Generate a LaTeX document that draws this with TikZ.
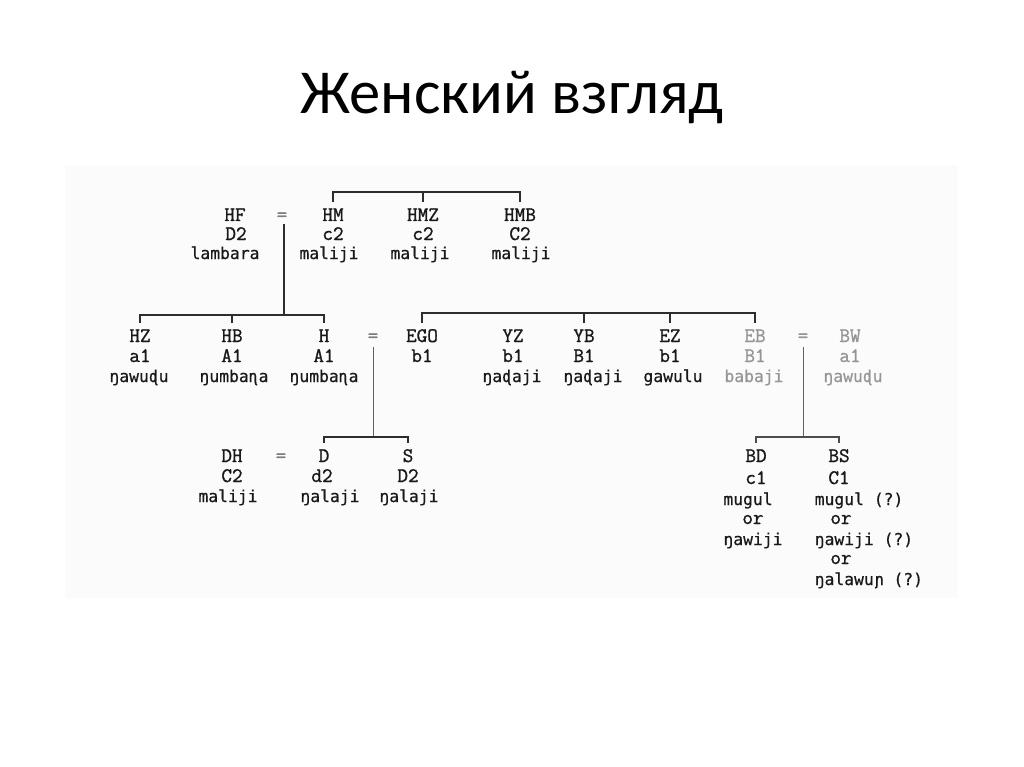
\documentclass[tikz,border=0pt]{standalone}
\usepackage{fontspec}
\setmainfont{Carlito}
\newfontfamily\wordfont[FakeBold=0.6]{DejaVu Sans Mono}
\newfontfamily\codefont[FakeBold=1.2]{Latin Modern Mono}
\usetikzlibrary{positioning}
\definecolor{ink}{RGB}{25,25,25}
\definecolor{fadeink}{RGB}{150,150,150}
\definecolor{eqink}{RGB}{125,125,125}
\definecolor{kinline}{RGB}{45,45,45}
\definecolor{scanbg}{RGB}{251,251,251}

\begin{document}
\begin{tikzpicture}[
  x=0.703125pt, y=-0.703125pt,
  kname/.style={font=\fontsize{14.5}{15}\codefont, text=ink, anchor=base,
                text height=8.9pt, text depth=0pt, inner xsep=1pt, inner ysep=4pt},
  kcode/.style={font=\fontsize{14.5}{15}\codefont, text=ink, anchor=base, inner sep=1pt},
  kword/.style={font=\fontsize{11.5}{12}\wordfont, text=ink, anchor=base, inner sep=1pt},
  eqsign/.style={font=\fontsize{14.5}{15}\codefont, text=eqink, anchor=base, inner sep=1pt},
  faded/.style={text=fadeink},
  kin/.style={draw=kinline, line width=1.1pt},
  tie/.style={draw=kinline!75, line width=0.7pt},
  title/.style={font=\fontsize{44}{50}\selectfont, text=black, anchor=base},
]
\useasboundingbox (0,0) rectangle (1024,767);
\fill[scanbg] (65,165) rectangle (958,598);

\node[title] (title) at (512,114) {Женский взгляд};

% ---- Generation +1 ----
\node[kname] (hf)    at (235,221) {HF};
\node[kcode] (hf-c)  at (236,240) {D2};
\node[kword] (hf-w)  at (225,259) {lambara};
\node[eqsign] (eq1)  at (282,221) {=};
\node[kname] (hm)    at (333,221) {HM};
\node[kcode] (hm-c)  at (333,240) {c2};
\node[kword] (hm-w)  at (329,259) {maliji};
\node[kname] (hmz)   at (423,221) {HMZ};
\node[kcode] (hmz-c) at (423,240) {c2};
\node[kword] (hmz-w) at (420,259) {maliji};
\node[kname] (hmb)   at (520,221) {HMB};
\node[kcode] (hmb-c) at (520,240) {C2};
\node[kword] (hmb-w) at (521,259) {maliji};

% ---- Generation 0 ----
\node[kname] (hz)    at (140,342) {HZ};
\node[kcode] (hz-c)  at (140,362) {a1};
\node[kword] (hz-w)  at (139,382) {ŋawuɖu};
\node[kname] (hb)    at (232,342) {HB};
\node[kcode] (hb-c)  at (232,362) {A1};
\node[kword] (hb-w)  at (234,382) {ŋumbaɳa};
\node[kname] (h)     at (324,342) {H};
\node[kcode] (h-c)   at (324,362) {A1};
\node[kword] (h-w)   at (324,382) {ŋumbaɳa};
\node[eqsign] (eq2)  at (373,342) {=};
\node[kname] (ego)   at (422,342) {EGO};
\node[kcode] (ego-c) at (422,362) {b1};
\node[kname] (yz)    at (513,342) {YZ};
\node[kcode] (yz-c)  at (513,362) {b1};
\node[kword] (yz-w)  at (512,382) {ŋaɖaji};
\node[kname] (yb)    at (584,342) {YB};
\node[kcode] (yb-c)  at (584,362) {B1};
\node[kword] (yb-w)  at (593,382) {ŋaɖaji};
\node[kname] (ez)    at (670,342) {EZ};
\node[kcode] (ez-c)  at (670,362) {b1};
\node[kword] (ez-w)  at (673,382) {gawulu};
\node[kname, faded] (eb)   at (755,342) {EB};
\node[kcode, faded] (eb-c) at (755,362) {B1};
\node[kword, faded] (eb-w) at (754,382) {babaji};
\node[eqsign, faded] (eq3) at (803,342) {=};
\node[kname, faded] (bw)   at (850,342) {BW};
\node[kcode, faded] (bw-c) at (850,362) {a1};
\node[kword, faded] (bw-w) at (853,382) {ŋawuɖu};

% ---- Generation -1 ----
\node[kname] (dh)    at (232,462) {DH};
\node[kcode] (dh-c)  at (232,482) {C2};
\node[kword] (dh-w)  at (228,502) {maliji};
\node[eqsign] (eq4)  at (281,462) {=};
\node[kname] (d)     at (324,462) {D};
\node[kcode] (d-c)   at (322,482) {d2};
\node[kword] (d-w)   at (330,502) {ŋalaji};
\node[kname] (s)     at (408,462) {S};
\node[kcode] (s-c)   at (408,482) {D2};
\node[kword] (s-w)   at (409,502) {ŋalaji};
\node[kname] (bd)    at (756,462) {BD};
\node[kcode] (bd-c)  at (756,484) {c1};
\node[kword] (bd-w1) at (748,505) {mugul};
\node[kcode] (bd-o)  at (753,524) {or};
\node[kword] (bd-w2) at (753,545) {ŋawiji};
\node[kname] (bs)    at (839,462) {BS};
\node[kcode] (bs-c)  at (839,484) {C1};
\node[kword, anchor=base west] (bs-w1) at (813,505) {mugul (?)};
\node[kcode] (bs-o1) at (841,524) {or};
\node[kword, anchor=base west] (bs-w2) at (813,545) {ŋawiji (?)};
\node[kcode] (bs-o2) at (841,564) {or};
\node[kword, anchor=base west] (bs-w3) at (813,585) {ŋalawuɲ (?)};

% ---- Sibling bars and descent lines ----
\coordinate (bar1) at (423,192);
\draw[kin] (hm.north) |- (bar1) -| (hmb.north);
\draw[kin] (bar1) -- (hmz.north);

\coordinate (hfhm) at (284,224);
\coordinate (bar2) at (284,315);
\draw[kin] (hfhm) -- (bar2);
\draw[kin] (hz.north) |- (bar2) -| (h.north);
\draw[kin] (hb.north) -- (hb.north |- bar2);

\coordinate (bar3) at (590,313);
\draw[kin] (ego.north) |- (bar3) -| (eb.north);
\foreach \k in {yb, ez}
  \draw[kin] (\k.north) -- (\k.north |- bar3);

\coordinate (hego) at (373,347);
\coordinate (bar4) at (373,437);
\draw[tie] (hego) -- (bar4);
\draw[kin] (d.north) |- (bar4) -| (s.north);

\coordinate (ebbw) at (803,347);
\coordinate (bar5) at (803,437);
\draw[tie] (ebbw) -- (bar5);
\draw[kin, draw=kinline!85] (bd.north) |- (bar5) -| (bs.north);
\end{tikzpicture}
\end{document}
